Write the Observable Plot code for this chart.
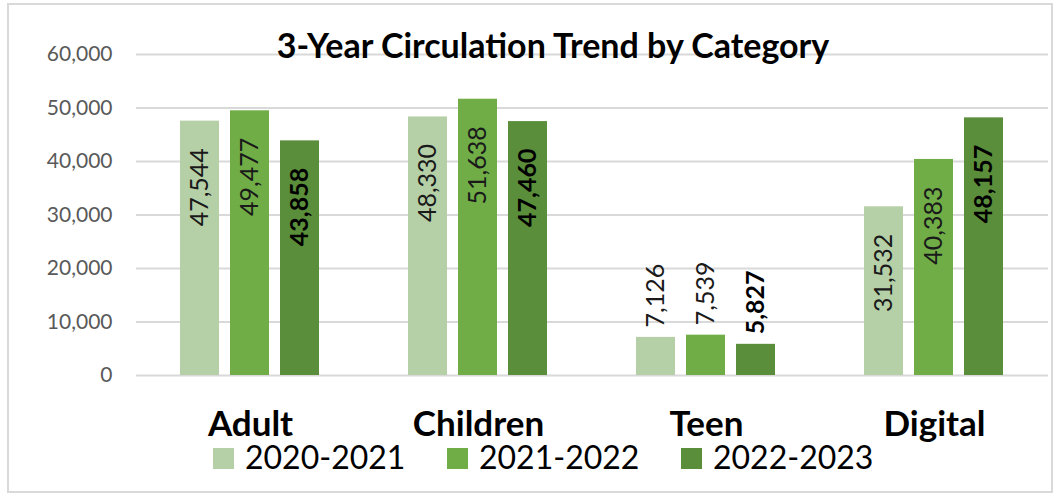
<!DOCTYPE html>
<html><head><meta charset="utf-8">
<script src="https://cdn.jsdelivr.net/npm/d3@7"></script>
<script src="https://cdn.jsdelivr.net/npm/@observablehq/plot@0.6"></script>
<style>
body{margin:0;background:#fff;font-family:Lato,sans-serif;}
#wrap{position:relative;width:1058px;height:497px;overflow:hidden;background:#fff;}
#frame{position:absolute;left:7px;top:3px;width:1042px;height:486px;border:2px solid #d9d9d9;}
#chart{position:absolute;left:0;top:0;}
#title{position:absolute;left:0;width:1106px;top:25px;text-align:center;font-weight:bold;font-size:34px;color:#000;line-height:40px;}
.lg{position:absolute;top:436px;height:40px;display:flex;align-items:center;font-size:32px;color:#000;}
.sw{width:21px;height:21px;margin-right:11px;margin-top:4px;}
</style></head>
<body>
<div id="wrap">
<div id="frame"></div>
<div id="chart"></div>
<div id="title">3-Year Circulation Trend by Category</div>
<div id="legend"></div>
</div>
<script>
const categories = ["Adult", "Children", "Teen", "Digital"];
const series = ["2020-2021", "2021-2022", "2022-2023"];
const values2020 = [47544, 48330, 7126, 31532];
const values2021 = [49477, 51638, 7539, 40383];
const values2022 = [43858, 47460, 5827, 48157];
const yTicks = [0, 10000, 20000, 30000, 40000, 50000, 60000];
const colors = ["#b5cfa7", "#70ad47", "#5a8e3a"];

const allValues = [values2020, values2021, values2022];
const data = [];
categories.forEach((c, i) => series.forEach((s, j) => data.push({category: c, series: s, value: allValues[j][i]})));

const fmt = d3.format(",");
const inside = data.filter(d => d.value > 20000);
const outside = data.filter(d => d.value <= 20000);
const last = series[2];

const chart = Plot.plot({
  width: 1058, height: 497,
  marginLeft: 134, marginRight: 9, marginTop: 54, marginBottom: 122,
  style: {fontFamily: "Lato, sans-serif", background: "transparent"},
  fx: {domain: categories, padding: 0, axis: null, label: null},
  x: {domain: series, paddingInner: 0.216, paddingOuter: 0.85, axis: null, label: null},
  y: {domain: [0, 60000], axis: null, label: null},
  color: {domain: series, range: colors},
  marks: [
    Plot.gridY(yTicks, {stroke: "#d9d9d9", strokeOpacity: 1, strokeWidth: 2}),
    Plot.axisY(yTicks, {tickSize: 0, tickPadding: 24, fontSize: 21, fill: "#595959", tickFormat: fmt, label: null}),
    Plot.barY(data, {fx: "category", x: "series", y: "value", fill: "series"}),
    Plot.text(inside.filter(d => d.series !== last), {fx: "category", x: "series", y: "value", text: d => fmt(d.value), rotate: -90, textAnchor: "end", dy: 27, fontSize: 25, fill: "#1a1a1a"}),
    Plot.text(inside.filter(d => d.series === last), {fx: "category", x: "series", y: "value", text: d => fmt(d.value), rotate: -90, textAnchor: "end", dy: 27, fontSize: 25, fontWeight: "bold", fill: "#000"}),
    Plot.text(outside.filter(d => d.series !== last), {fx: "category", x: "series", y: "value", text: d => fmt(d.value), rotate: -90, textAnchor: "start", dy: -10, fontSize: 25, fill: "#1a1a1a"}),
    Plot.text(outside.filter(d => d.series === last), {fx: "category", x: "series", y: "value", text: d => fmt(d.value), rotate: -90, textAnchor: "start", dy: -10, fontSize: 25, fontWeight: "bold", fill: "#000"}),
    Plot.text(categories, {fx: d => d, text: d => d, frameAnchor: "bottom", dy: 60, fontSize: 35, fontWeight: "bold", fill: "#000"})
  ]
});
document.getElementById("chart").appendChild(chart);

const legend = document.getElementById("legend");
series.forEach((s, i) => {
  const item = document.createElement("div");
  item.className = "lg";
  item.style.left = (213 + i * 234) + "px";
  const sw = document.createElement("div");
  sw.className = "sw";
  sw.style.background = colors[i];
  const label = document.createElement("span");
  label.textContent = s;
  item.appendChild(sw);
  item.appendChild(label);
  legend.appendChild(item);
});
</script>
</body></html>
